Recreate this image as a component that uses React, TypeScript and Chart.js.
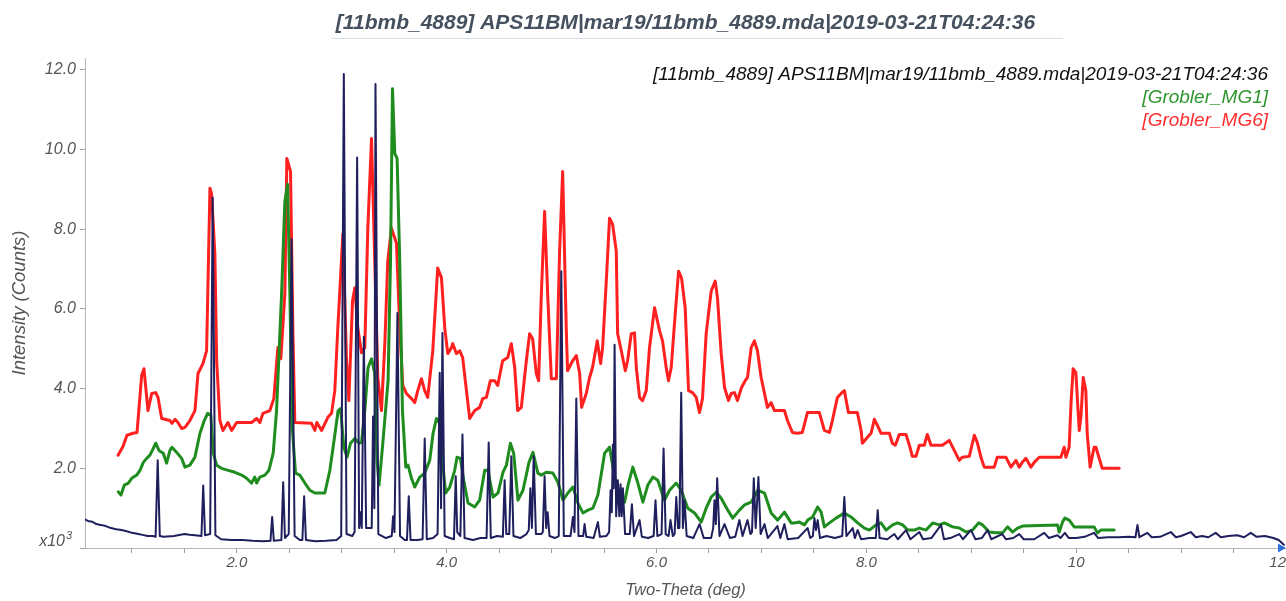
import { useEffect, useRef } from 'react';
import { Chart, registerables } from 'chart.js';

Chart.register(...registerables);

const chartTitle = '[11bmb_4889] APS11BM|mar19/11bmb_4889.mda|2019-03-21T04:24:36';
const legendNames = [chartTitle, '[Grobler_MG1]', '[Grobler_MG6]'];
const legendColors = ['#111111', '#2e962e', '#ff2d2d'];
const lineColors = ['#1e1f5c', '#1f8c1f', '#ff2020'];
const xTitle = 'Two-Theta (deg)';
const yTitle = 'Intensity (Counts)';
const yUnitLabel = 'x10';
const yUnitExp = '3';
const xMin = 0.552;
const xMax = 12;
const yMin = 0;
const yMax = 12.3;
const xTickStep = 0.5;
const xLabelStep = 2;
const yTickStep = 2;

// [two-theta (deg), intensity (x10^3 counts)]
const navyPoints: [number, number][] = [
  [0.55, 0.72], [0.58, 0.68], [0.62, 0.66], [0.66, 0.6], [0.7, 0.58], [0.75, 0.55], [0.8, 0.5], [0.85, 0.47],
  [0.9, 0.45], [0.95, 0.42], [1.0, 0.38], [1.05, 0.36], [1.1, 0.33], [1.15, 0.3], [1.2, 0.3], [1.225, 0.28],
  [1.245, 2.2], [1.265, 0.3], [1.3, 0.28], [1.4, 0.3], [1.5, 0.35], [1.55, 0.33], [1.6, 0.32], [1.662, 0.3],
  [1.679, 1.57], [1.696, 0.32], [1.745, 0.35], [1.769, 8.8], [1.795, 0.32], [1.85, 0.22], [1.95, 0.2], [2.05, 0.2],
  [2.15, 0.18], [2.25, 0.17], [2.32, 0.18], [2.336, 0.78], [2.352, 0.18], [2.424, 0.2], [2.441, 1.65], [2.458, 0.25],
  [2.494, 0.35], [2.521, 7.75], [2.55, 0.3], [2.6, 0.2], [2.624, 0.2], [2.641, 1.3], [2.658, 0.2], [2.75, 0.17],
  [2.85, 0.18], [2.95, 0.2], [2.994, 0.3], [3.019, 11.9], [3.045, 0.35], [3.1, 0.3], [3.122, 0.4], [3.146, 9.8],
  [3.165, 0.5], [3.178, 0.9], [3.19, 0.5], [3.21, 5.3], [3.232, 0.5], [3.285, 0.5], [3.298, 3.3], [3.31, 1.0],
  [3.321, 11.65], [3.348, 0.35], [3.42, 0.25], [3.476, 0.3], [3.489, 0.8], [3.502, 0.4], [3.53, 5.9], [3.555, 0.3],
  [3.6, 0.2], [3.621, 0.2], [3.638, 1.3], [3.655, 0.2], [3.72, 0.2], [3.77, 0.22], [3.79, 2.75], [3.81, 0.22],
  [3.87, 0.25], [3.913, 0.35], [3.933, 4.4], [3.946, 1.0], [3.959, 5.4], [3.98, 0.3], [4.03, 0.25], [4.069, 0.22],
  [4.086, 1.8], [4.1, 0.4], [4.13, 0.3], [4.15, 2.85], [4.17, 0.25], [4.25, 0.2], [4.32, 0.25], [4.38, 0.25],
  [4.4, 2.65], [4.42, 0.25], [4.48, 0.3], [4.535, 0.28], [4.552, 1.7], [4.568, 0.35], [4.596, 0.35], [4.616, 2.3],
  [4.636, 0.3], [4.7, 0.25], [4.76, 0.35], [4.782, 0.45], [4.797, 1.5], [4.812, 0.5], [4.829, 2.3], [4.85, 0.35],
  [4.9, 0.35], [4.916, 0.4], [4.933, 1.8], [4.948, 0.5], [4.962, 0.9], [4.98, 0.3], [5.03, 0.25], [5.068, 0.3],
  [5.092, 6.95], [5.116, 0.3], [5.18, 0.3], [5.203, 0.78], [5.218, 0.4], [5.235, 3.75], [5.256, 0.3], [5.3, 0.3],
  [5.314, 0.6], [5.33, 0.28], [5.4, 0.25], [5.441, 0.65], [5.46, 0.28], [5.52, 0.3], [5.548, 0.4], [5.562, 1.45],
  [5.573, 0.9], [5.584, 2.6], [5.592, 1.5], [5.6, 5.1], [5.615, 0.8], [5.631, 1.7], [5.645, 0.8], [5.657, 1.6],
  [5.668, 0.8], [5.679, 1.5], [5.7, 0.35], [5.745, 0.35], [5.765, 1.1], [5.785, 0.3], [5.838, 0.7], [5.86, 0.28],
  [5.92, 0.25], [5.972, 0.3], [5.99, 1.2], [6.008, 0.3], [6.048, 0.35], [6.067, 2.5], [6.087, 0.35], [6.115, 0.3],
  [6.133, 0.7], [6.155, 0.3], [6.172, 0.35], [6.188, 1.28], [6.205, 0.5], [6.218, 0.5], [6.235, 3.9], [6.251, 0.5],
  [6.267, 1.2], [6.287, 0.3], [6.35, 0.25], [6.41, 0.6], [6.45, 0.25], [6.52, 0.25], [6.54, 0.5], [6.552, 1.2],
  [6.565, 0.6], [6.578, 1.75], [6.6, 0.3], [6.648, 0.6], [6.7, 0.25], [6.75, 0.28], [6.79, 0.7], [6.82, 0.3],
  [6.867, 0.7], [6.895, 0.35], [6.91, 0.4], [6.927, 1.75], [6.945, 0.5], [6.971, 1.78], [6.992, 0.35], [7.029, 0.6],
  [7.06, 0.25], [7.152, 0.55], [7.18, 0.25], [7.219, 0.6], [7.25, 0.22], [7.35, 0.25], [7.44, 0.5], [7.465, 0.25],
  [7.49, 0.3], [7.505, 0.75], [7.52, 0.45], [7.536, 0.7], [7.558, 0.25], [7.62, 0.3], [7.7, 0.25], [7.77, 0.3],
  [7.79, 1.28], [7.81, 0.3], [7.87, 0.5], [7.89, 0.25], [7.917, 0.45], [7.95, 0.22], [8.03, 0.25], [8.09, 0.25],
  [8.108, 0.95], [8.126, 0.25], [8.2, 0.22], [8.267, 0.35], [8.3, 0.22], [8.378, 0.45], [8.42, 0.22], [8.505, 0.4],
  [8.54, 0.22], [8.62, 0.25], [8.712, 0.58], [8.74, 0.22], [8.8, 0.25], [8.886, 0.35], [8.92, 0.22], [8.997, 0.45],
  [9.04, 0.22], [9.1, 0.25], [9.155, 0.45], [9.19, 0.22], [9.295, 0.35], [9.33, 0.22], [9.4, 0.25], [9.457, 0.35],
  [9.5, 0.22], [9.6, 0.22], [9.695, 0.38], [9.74, 0.25], [9.822, 0.32], [9.85, 0.25], [9.892, 0.38], [9.93, 0.25],
  [10.0, 0.25], [10.08, 0.28], [10.171, 0.38], [10.21, 0.25], [10.3, 0.27], [10.4, 0.27], [10.5, 0.28], [10.565, 0.27],
  [10.584, 0.58], [10.603, 0.27], [10.679, 0.38], [10.72, 0.27], [10.8, 0.28], [10.902, 0.4], [10.95, 0.27], [11.0, 0.3],
  [11.092, 0.4], [11.14, 0.27], [11.2, 0.3], [11.26, 0.27], [11.33, 0.38], [11.38, 0.27], [11.45, 0.3], [11.536, 0.32],
  [11.6, 0.27], [11.664, 0.38], [11.72, 0.28], [11.8, 0.3], [11.88, 0.25], [11.93, 0.2], [11.98, 0.08],
];

const greenPoints: [number, number][] = [
  [0.869, 1.41], [0.895, 1.33], [0.927, 1.58], [0.965, 1.63], [0.997, 1.75], [1.045, 1.83], [1.076, 1.95], [1.108, 2.15],
  [1.14, 2.25], [1.171, 2.33], [1.203, 2.5], [1.226, 2.63], [1.257, 2.45], [1.298, 2.38], [1.33, 2.13], [1.362, 2.45],
  [1.381, 2.53], [1.426, 2.4], [1.473, 2.25], [1.505, 2.03], [1.552, 2.08], [1.6, 2.28], [1.648, 2.88], [1.689, 3.2],
  [1.721, 3.38], [1.752, 3.33], [1.774, 2.38], [1.807, 2.08], [1.854, 2.0], [1.917, 1.95], [1.981, 1.9], [2.045, 1.83],
  [2.092, 1.75], [2.14, 1.63], [2.171, 1.78], [2.188, 1.63], [2.219, 1.78], [2.267, 1.83], [2.305, 1.95], [2.346, 2.38],
  [2.378, 3.45], [2.426, 6.38], [2.457, 8.7], [2.483, 9.13], [2.505, 6.38], [2.527, 3.03], [2.559, 1.88], [2.6, 1.83],
  [2.648, 1.63], [2.695, 1.45], [2.743, 1.38], [2.838, 1.38], [2.886, 1.95], [2.917, 2.53], [2.965, 3.45], [2.988, 3.5],
  [3.019, 2.53], [3.05, 2.28], [3.083, 2.63], [3.124, 2.75], [3.165, 2.63], [3.188, 2.65], [3.219, 3.45], [3.25, 4.53],
  [3.283, 4.75], [3.314, 4.38], [3.336, 2.2], [3.355, 1.58], [3.393, 2.7], [3.441, 4.2], [3.464, 7.2], [3.483, 11.53],
  [3.505, 9.9], [3.527, 9.78], [3.552, 7.2], [3.578, 3.45], [3.61, 2.03], [3.631, 2.08], [3.664, 1.75], [3.695, 1.53],
  [3.743, 1.78], [3.79, 1.88], [3.838, 2.2], [3.87, 2.88], [3.902, 3.25], [3.933, 3.13], [3.959, 2.2], [3.99, 1.38],
  [4.029, 1.53], [4.076, 1.95], [4.098, 2.28], [4.13, 2.25], [4.162, 1.7], [4.203, 1.13], [4.267, 1.03], [4.314, 1.2],
  [4.362, 1.95], [4.393, 1.95], [4.441, 1.28], [4.489, 1.38], [4.536, 1.9], [4.569, 2.08], [4.607, 2.63], [4.638, 2.38],
  [4.679, 1.2], [4.727, 1.45], [4.784, 2.15], [4.822, 2.4], [4.869, 1.88], [4.902, 1.83], [4.95, 1.9], [5.012, 1.88],
  [5.06, 1.65], [5.108, 1.2], [5.155, 1.38], [5.203, 1.53], [5.25, 1.13], [5.298, 0.88], [5.346, 0.95], [5.393, 1.0],
  [5.441, 1.33], [5.505, 2.38], [5.552, 2.53], [5.6, 1.78], [5.648, 1.38], [5.695, 1.15], [5.733, 1.63], [5.774, 2.03],
  [5.822, 1.63], [5.87, 1.15], [5.917, 1.58], [5.965, 1.78], [6.012, 1.7], [6.076, 1.2], [6.124, 1.45], [6.188, 1.63],
  [6.235, 1.45], [6.298, 1.0], [6.362, 0.88], [6.426, 0.65], [6.473, 1.0], [6.521, 1.28], [6.569, 1.4], [6.616, 1.25],
  [6.679, 0.95], [6.726, 0.75], [6.79, 0.95], [6.838, 1.08], [6.902, 1.15], [6.965, 1.45], [7.029, 1.38], [7.092, 0.88],
  [7.155, 0.7], [7.219, 0.9], [7.283, 0.63], [7.314, 0.63], [7.362, 0.65], [7.41, 0.58], [7.441, 0.7], [7.488, 0.78],
  [7.536, 1.03], [7.569, 0.9], [7.6, 0.53], [7.648, 0.63], [7.711, 0.75], [7.79, 0.88], [7.854, 0.78], [7.917, 0.63],
  [7.981, 0.5], [8.029, 0.45], [8.092, 0.58], [8.14, 0.63], [8.188, 0.45], [8.25, 0.58], [8.298, 0.63], [8.346, 0.58],
  [8.394, 0.45], [8.457, 0.45], [8.505, 0.5], [8.569, 0.45], [8.632, 0.63], [8.695, 0.58], [8.743, 0.63], [8.822, 0.53],
  [8.886, 0.5], [8.95, 0.4], [9.012, 0.45], [9.07, 0.63], [9.108, 0.58], [9.171, 0.4], [9.235, 0.38], [9.298, 0.38],
  [9.346, 0.53], [9.393, 0.4], [9.441, 0.5], [9.489, 0.55], [9.822, 0.58], [9.838, 0.4], [9.87, 0.65], [9.892, 0.75],
  [9.933, 0.7], [9.981, 0.53], [10.171, 0.53], [10.203, 0.38], [10.236, 0.45], [10.362, 0.45],
];

const redPoints: [number, number][] = [
  [0.867, 2.33], [0.914, 2.55], [0.952, 2.83], [1.01, 2.88], [1.048, 2.9], [1.092, 4.33], [1.114, 4.5], [1.152, 3.45],
  [1.188, 3.88], [1.226, 3.9], [1.248, 3.78], [1.283, 3.25], [1.362, 3.2], [1.381, 3.13], [1.41, 3.23], [1.438, 3.15],
  [1.473, 3.0], [1.505, 3.03], [1.552, 3.2], [1.6, 3.45], [1.629, 4.38], [1.676, 4.63], [1.711, 4.95], [1.743, 9.03],
  [1.759, 8.88], [1.79, 7.38], [1.807, 4.7], [1.838, 3.2], [1.867, 2.95], [1.914, 3.15], [1.95, 2.95], [1.997, 3.15],
  [2.14, 3.15], [2.188, 3.25], [2.219, 3.15], [2.248, 3.38], [2.314, 3.45], [2.352, 3.75], [2.39, 5.03], [2.419, 4.75],
  [2.457, 6.38], [2.476, 9.78], [2.511, 9.45], [2.533, 5.53], [2.552, 3.15], [2.711, 3.13], [2.743, 2.95], [2.762, 3.15],
  [2.807, 2.95], [2.867, 3.28], [2.902, 3.38], [2.933, 3.95], [2.962, 5.53], [3.01, 7.88], [3.045, 4.7], [3.067, 3.7],
  [3.102, 6.2], [3.124, 6.53], [3.152, 5.53], [3.188, 4.9], [3.219, 5.03], [3.248, 8.03], [3.283, 10.28], [3.314, 7.2],
  [3.343, 4.28], [3.378, 3.45], [3.41, 5.13], [3.438, 7.2], [3.473, 8.03], [3.521, 7.65], [3.552, 5.53], [3.581, 4.08],
  [3.616, 3.88], [3.664, 3.75], [3.695, 3.65], [3.724, 3.95], [3.759, 4.25], [3.79, 3.95], [3.819, 3.78], [3.867, 4.95],
  [3.914, 7.03], [3.95, 6.78], [3.981, 5.53], [4.01, 4.88], [4.045, 5.03], [4.057, 5.13], [4.092, 4.88], [4.124, 4.95],
  [4.152, 4.78], [4.188, 3.95], [4.219, 3.25], [4.267, 3.45], [4.314, 3.53], [4.343, 3.75], [4.378, 3.78], [4.416, 4.2],
  [4.457, 4.2], [4.486, 4.08], [4.533, 4.7], [4.581, 4.78], [4.616, 5.13], [4.648, 4.53], [4.676, 3.45], [4.711, 3.53],
  [4.759, 4.7], [4.79, 5.38], [4.819, 5.25], [4.854, 4.38], [4.876, 4.2], [4.902, 6.38], [4.933, 8.45], [4.962, 6.38],
  [4.997, 4.25], [5.045, 4.25], [5.076, 7.45], [5.105, 9.45], [5.14, 5.45], [5.152, 4.45], [5.2, 4.7], [5.235, 4.83],
  [5.267, 4.38], [5.286, 3.53], [5.33, 3.88], [5.362, 4.28], [5.39, 4.53], [5.435, 5.2], [5.467, 4.63], [5.486, 5.03],
  [5.521, 6.7], [5.552, 8.28], [5.581, 8.13], [5.616, 7.45], [5.629, 5.38], [5.664, 4.95], [5.702, 4.45], [5.724, 4.7],
  [5.759, 5.38], [5.79, 5.4], [5.807, 4.53], [5.838, 3.78], [5.867, 3.7], [5.902, 3.95], [5.933, 5.03], [5.981, 6.03],
  [6.029, 5.45], [6.057, 5.2], [6.092, 4.53], [6.114, 4.2], [6.14, 4.53], [6.171, 5.63], [6.21, 6.95], [6.238, 6.78],
  [6.273, 6.03], [6.305, 3.95], [6.343, 3.9], [6.378, 3.78], [6.41, 3.4], [6.438, 3.75], [6.473, 5.38], [6.521, 6.45],
  [6.559, 6.7], [6.581, 6.28], [6.616, 4.88], [6.648, 4.03], [6.686, 3.7], [6.711, 3.88], [6.743, 3.9], [6.771, 3.7],
  [6.81, 4.03], [6.845, 4.2], [6.867, 4.28], [6.902, 5.03], [6.933, 5.2], [6.962, 4.95], [6.997, 4.28], [7.029, 3.88],
  [7.057, 3.53], [7.092, 3.65], [7.124, 3.45], [7.219, 3.45], [7.248, 3.2], [7.295, 2.9], [7.343, 2.88], [7.39, 2.9],
  [7.438, 3.4], [7.552, 3.4], [7.6, 2.95], [7.648, 2.9], [7.676, 3.2], [7.724, 3.78], [7.759, 3.88], [7.79, 3.95],
  [7.829, 3.4], [7.914, 3.4], [7.95, 2.95], [7.962, 2.63], [8.01, 2.78], [8.045, 2.88], [8.076, 3.23], [8.105, 3.08],
  [8.14, 2.88], [8.219, 2.88], [8.248, 2.63], [8.276, 2.58], [8.314, 2.85], [8.378, 2.85], [8.41, 2.58], [8.438, 2.3],
  [8.473, 2.3], [8.505, 2.58], [8.552, 2.58], [8.581, 2.85], [8.616, 2.58], [8.724, 2.58], [8.79, 2.7], [8.838, 2.45],
  [8.886, 2.2], [8.914, 2.28], [8.981, 2.3], [9.029, 2.83], [9.057, 2.65], [9.092, 2.28], [9.124, 2.03], [9.219, 2.03],
  [9.248, 2.28], [9.33, 2.28], [9.378, 2.03], [9.426, 2.2], [9.457, 2.03], [9.486, 2.15], [9.521, 2.25], [9.569, 2.03],
  [9.6, 2.15], [9.648, 2.28], [9.854, 2.28], [9.886, 2.53], [9.902, 2.28], [9.933, 2.53], [9.952, 3.7], [9.971, 4.5],
  [9.997, 4.4], [10.029, 2.95], [10.045, 3.28], [10.067, 4.28], [10.092, 3.95], [10.105, 2.88], [10.133, 2.03], [10.171, 2.53],
  [10.188, 2.53], [10.248, 2.0], [10.41, 2.0],
];

const FONT = '"Liberation Sans", Arial, sans-serif';

const decorPlugin = {
  id: 'decor',
  afterDraw(chart: any) {
    const { ctx, chartArea } = chart;
    ctx.save();
    const cx = (chartArea.left + chartArea.right) / 2;
    ctx.font = `italic bold 21px ${FONT}`;
    ctx.fillStyle = '#46515f';
    ctx.textAlign = 'center';
    ctx.textBaseline = 'middle';
    ctx.fillText(chartTitle, cx, 23);
    const tw = ctx.measureText(chartTitle).width;
    ctx.strokeStyle = '#d6dde4';
    ctx.lineWidth = 1;
    ctx.beginPath();
    ctx.moveTo(cx - tw / 2 - 4, 38.5);
    ctx.lineTo(cx + tw / 2 + 28, 38.5);
    ctx.stroke();

    ctx.font = `italic 19px ${FONT}`;
    ctx.textAlign = 'right';
    legendNames.forEach((name, i) => {
      ctx.fillStyle = legendColors[i];
      ctx.fillText(name, chartArea.right - 18, 75 + i * 23);
    });

    ctx.fillStyle = '#555555';
    ctx.font = `italic 16px ${FONT}`;
    ctx.textAlign = 'right';
    ctx.fillText(yUnitLabel, 65, chartArea.bottom - 6);
    ctx.font = `italic 11px ${FONT}`;
    ctx.textAlign = 'left';
    ctx.fillText(yUnitExp, 66, chartArea.bottom - 12);

    ctx.fillStyle = '#2f6fd8';
    ctx.beginPath();
    ctx.moveTo(chartArea.right, chartArea.bottom);
    ctx.lineTo(chartArea.right - 8, chartArea.bottom - 4.5);
    ctx.lineTo(chartArea.right - 8, chartArea.bottom + 4.5);
    ctx.closePath();
    ctx.fill();
    ctx.restore();
  },
};

export default function App() {
  const ref = useRef<HTMLCanvasElement | null>(null);
  useEffect(() => {
    if (!ref.current) return;
    const toXY = (pts: [number, number][]) => pts.map(([x, y]) => ({ x, y }));
    const chart = new Chart(ref.current, {
      type: 'line',
      data: {
        datasets: [
          { label: legendNames[0], data: toXY(navyPoints), borderColor: lineColors[0], borderWidth: 2 },
          { label: legendNames[1], data: toXY(greenPoints), borderColor: lineColors[1], borderWidth: 3 },
          { label: legendNames[2], data: toXY(redPoints), borderColor: lineColors[2], borderWidth: 3 },
        ].map((d) => ({ ...d, pointRadius: 0, tension: 0, fill: false, borderJoinStyle: 'round', borderCapStyle: 'round' })),
      },
      options: {
        responsive: false,
        animation: false,
        devicePixelRatio: 1,
        layout: { padding: { top: 58, right: 0, left: 0, bottom: 0 } },
        plugins: { legend: { display: false }, title: { display: false }, tooltip: { enabled: false } },
        scales: {
          x: {
            type: 'linear',
            min: xMin,
            max: xMax,
            afterFit: (s: any) => { s.height = 53; s.paddingLeft = 0; s.paddingRight = 0; },
            border: { color: '#b5b5b5', width: 1 },
            grid: { drawOnChartArea: false, drawTicks: true, tickLength: 5, tickColor: '#a0a0a0' },
            ticks: {
              stepSize: xTickStep,
              includeBounds: false,
              autoSkip: false,
              maxRotation: 0,
              align: 'inner',
              padding: 1,
              color: '#555555',
              font: { family: FONT, size: 15, style: 'italic' },
              callback: (v: any) => {
                const n = Number(v);
                if (Math.abs(n / xLabelStep - Math.round(n / xLabelStep)) > 1e-6) return '';
                return n >= 10 ? String(Math.round(n)) : n.toFixed(1);
              },
            },
            title: { display: true, text: xTitle, color: '#555555', padding: { top: 0, bottom: 1 }, font: { family: FONT, size: 16.5, style: 'italic' } },
          },
          y: {
            type: 'linear',
            min: yMin,
            max: yMax,
            afterFit: (s: any) => { s.width = 85; s.paddingTop = 0; s.paddingBottom = 0; },
            border: { color: '#b5b5b5', width: 1 },
            grid: { drawOnChartArea: false, drawTicks: true, tickLength: 5, tickColor: '#a0a0a0' },
            ticks: {
              stepSize: yTickStep,
              includeBounds: false,
              padding: 4,
              color: '#555555',
              font: { family: FONT, size: 16, style: 'italic' },
              callback: (v: any) => (Number(v) === 0 ? '' : Number(v).toFixed(1)),
            },
            title: { display: true, text: yTitle, color: '#555555', padding: { top: 9, bottom: 0 }, font: { family: FONT, size: 18.5, style: 'italic' } },
          },
        },
      },
      plugins: [decorPlugin],
    } as any);
    return () => chart.destroy();
  }, []);
  return (
    <div style={{ position: 'absolute', left: 0, top: 0, width: 1286, height: 601, background: '#ffffff' }}>
      <canvas ref={ref} width={1286} height={601} />
    </div>
  );
}
